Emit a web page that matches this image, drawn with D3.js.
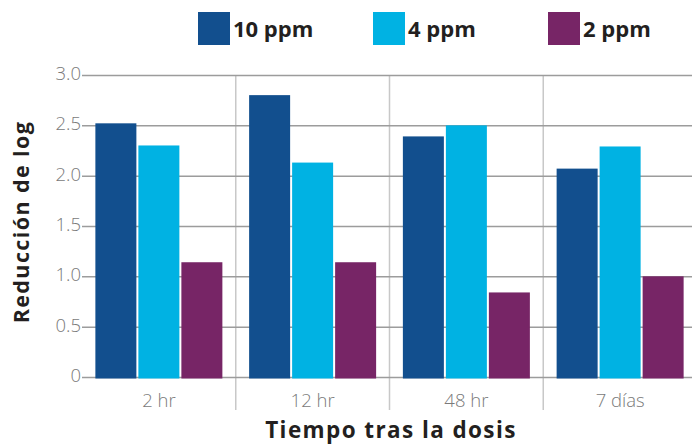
<!DOCTYPE html>
<html>
<head>
<meta charset="utf-8">
<script src="https://cdn.jsdelivr.net/npm/d3@7"></script>
<style>
html,body{margin:0;padding:0;background:#fff;}
svg{display:block;}
</style>
</head>
<body>
<svg id="chart" width="692" height="445"></svg>
<script>
const categories = ["2 hr", "12 hr", "48 hr", "7 días"];
const seriesNames = ["10 ppm", "4 ppm", "2 ppm"];
const seriesColors = ["#124f8e", "#00b2e3", "#772566"];
const values10 = [2.52, 2.80, 2.39, 2.07];
const values4 = [2.30, 2.13, 2.50, 2.29];
const values2 = [1.14, 1.14, 0.84, 1.00];
const yTicks = [0, 0.5, 1.0, 1.5, 2.0, 2.5, 3.0];
const yTickLabels = ["0", "0.5", "1.0", "1.5", "2.0", "2.5", "3.0"];
const yTitle = "Reducción de log";
const xTitle = "Tiempo tras la dosis";

(function () {
const allValues = [values10, values4, values2];
const svg = d3.select("#chart");

const pLeft = 82, pRight = 697, pTop = 75, pBottom = 377;
const x = d3.scaleBand().domain(categories).range([pLeft, pRight]).padding(0);
const y = d3.scaleLinear().domain([0, 3]).range([pBottom, pTop]);
const groupW = 127;
const off = (x.bandwidth() - groupW) / 2;
const x1 = d3.scaleBand().domain(seriesNames).range([off, off + groupW]).paddingInner(2/43).paddingOuter(0);

const font = "'Open Sans', Lato, sans-serif";

// vertical separators
svg.append("g").selectAll("line").data(categories.slice(1)).join("line")
  .attr("x1", d => x(d)).attr("x2", d => x(d))
  .attr("y1", pTop).attr("y2", 410)
  .attr("stroke", "#c8c8c8").attr("stroke-width", 1.5);

// horizontal gridlines via axis
const yAxis = d3.axisLeft(y).tickValues(yTicks).tickSize(-(692 - pLeft)).tickFormat((d, i) => yTickLabels[i]).tickPadding(2);
const ga = svg.append("g").attr("transform", `translate(${pLeft},0)`).call(yAxis);
ga.select(".domain").remove();
ga.selectAll(".tick line").attr("stroke", "#9c9c9c").attr("stroke-width", 1.5);
ga.selectAll(".tick text").attr("fill", "#7a7a7a").style("font-family", font).style("font-weight", 300)
  .style("font-size", "18.5px").attr("x", -1).attr("dy", "0.25em");

// bars
const g = svg.append("g");
seriesNames.forEach((s, si) => {
  g.append("g").selectAll("rect").data(allValues[si]).join("rect")
    .attr("x", (d, i) => x(categories[i]) + x1(s))
    .attr("y", d => y(d))
    .attr("width", x1.bandwidth())
    .attr("height", d => y(0) - y(d) + 1.5)
    .attr("fill", seriesColors[si]);
});

// x tick labels
const xAxis = d3.axisBottom(x).tickSize(0).tickPadding(0);
const gx = svg.append("g").attr("transform", `translate(0,${pBottom})`).call(xAxis);
gx.select(".domain").remove();
gx.selectAll(".tick text").attr("y", 29.5).attr("dy", "0").attr("fill", "#7a7a7a")
  .style("font-family", font).style("font-weight", 300).style("font-size", "18.5px");

// axis titles
svg.append("text").attr("x", 391).attr("y", 438).attr("text-anchor", "middle")
  .style("font-family", font).style("font-weight", 700).style("font-size", "22.5px")
  .style("letter-spacing", "1.4px").attr("fill", "#231f20")
  .text(xTitle);
svg.append("text").attr("transform", "translate(29,222) rotate(-90)").attr("text-anchor", "middle")
  .style("font-family", font).style("font-weight", 700).style("font-size", "21.5px")
  .style("letter-spacing", "1.4px").attr("fill", "#231f20")
  .text(yTitle);

// legend
const legendX = [198, 373, 548];
const lg = svg.append("g");
seriesNames.forEach((s, i) => {
  lg.append("rect").attr("x", legendX[i]).attr("y", 12).attr("width", 32).attr("height", 33).attr("fill", seriesColors[i]);
  lg.append("text").attr("x", legendX[i] + 35).attr("y", 37)
    .style("font-family", font).style("font-weight", 700).style("font-size", "22px").attr("fill", "#231f20")
    .text(s);
});
})();
</script>
</body>
</html>
